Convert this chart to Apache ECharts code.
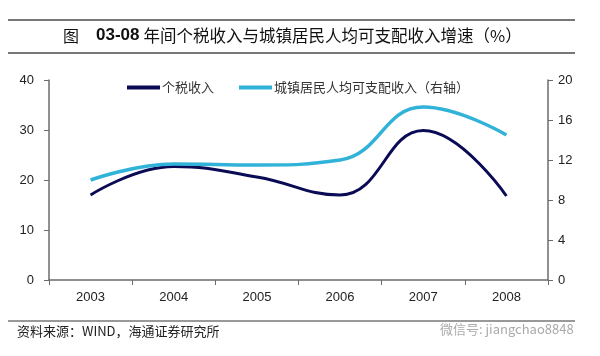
<!DOCTYPE html>
<html><head><meta charset="utf-8">
<script src="https://cdn.jsdelivr.net/npm/echarts@6/dist/echarts.min.js"></script>
<style>html,body{margin:0;padding:0;background:#fff}#c{width:600px;height:356px}</style>
</head><body><div id="c"></div>
<script>
const categories = ['2003','2004','2005','2006','2007','2008'];
const taxIncome = [17.0, 22.7, 20.6, 17.0, 29.9, 16.8];
const urbanIncome = [10.0, 11.6, 11.5, 12.0, 17.3, 14.5];
const seriesNames = ['个税收入', '城镇居民人均可支配收入（右轴）'];
const titlePrefix = '图';
const titleCode = '03-08';
const titleRest = '年间个税收入与城镇居民人均可支配收入增速（%）';
const sourceText = '资料来源：WIND，海通证券研究所';
const watermarkText = '微信号: jiangchao8848';

const chart = echarts.init(document.getElementById('c'), null, {renderer:'canvas'});
const cjk = '"Noto Sans CJK SC", "Liberation Sans", sans-serif';
const axisLine = {show:true, lineStyle:{color:'#6b6b6b', width:1.5}};
chart.setOption({
  animation:false,
  backgroundColor:'#fff',
  textStyle:{fontFamily:'"Liberation Sans", Arial, sans-serif'},
  grid:{left:49, right:52, top:80, bottom:76},
  legend:{
    top:76, left:122, itemWidth:33, itemHeight:4, itemGap:25,
    icon:'rect',
    textStyle:{fontFamily:cjk, fontSize:13, color:'#333', padding:[0,0,0,-3]},
    data:seriesNames
  },
  xAxis:{
    type:'category', data:categories, boundaryGap:true,
    axisLine:axisLine,
    axisTick:{show:true, inside:false, length:5, lineStyle:{color:'#6b6b6b'}},
    axisLabel:{fontSize:13, color:'#222', margin:11}
  },
  yAxis:[
    {type:'value', min:0, max:40, interval:10,
     axisLine:axisLine, axisTick:{show:true, length:5, lineStyle:{color:'#6b6b6b'}},
     splitLine:{show:false},
     axisLabel:{fontSize:13, color:'#222', margin:15}},
    {type:'value', min:0, max:20, interval:4, position:'right',
     axisLine:axisLine, axisTick:{show:true, length:5, lineStyle:{color:'#6b6b6b'}},
     splitLine:{show:false},
     axisLabel:{fontSize:13, color:'#222', margin:10}}
  ],
  series:[
    {name:seriesNames[0], type:'line', data:taxIncome, yAxisIndex:0, smooth:0.45,
     symbol:'none', lineStyle:{color:'#0b0b55', width:3}, itemStyle:{color:'#0b0b55'}},
    {name:seriesNames[1], type:'line', data:urbanIncome, yAxisIndex:1, smooth:0.45,
     symbol:'none', lineStyle:{color:'#31b2d8', width:3.5}, itemStyle:{color:'#31b2d8'}}
  ],
  graphic:[
    {type:'line', shape:{x1:8,y1:20,x2:575,y2:20}, style:{stroke:'#777', lineWidth:2}},
    {type:'line', shape:{x1:8,y1:53,x2:575,y2:53}, style:{stroke:'#777', lineWidth:2}},
    {type:'text', left:63, top:27, style:{
      text:'{a|'+titlePrefix+'}{b|'+titleCode+'}{c|'+titleRest+'}',
      rich:{
        a:{font:'16px '+cjk, fill:'#111', width:33},
        b:{font:'bold 17px "Liberation Sans", Arial, sans-serif', fill:'#111', padding:[0,4,0,0]},
        c:{font:'16.5px '+cjk, fill:'#111'}
      }}},
    {type:'line', shape:{x1:8,y1:321,x2:575,y2:321}, style:{stroke:'#777', lineWidth:1.5}},
    {type:'text', left:17, top:325, style:{text:sourceText, font:'13px '+cjk, fill:'#222'}},
    {type:'text', left:440, top:323, style:{text:watermarkText, font:'13px '+cjk, fill:'#aaa'}}
  ]
});
</script></body></html>
